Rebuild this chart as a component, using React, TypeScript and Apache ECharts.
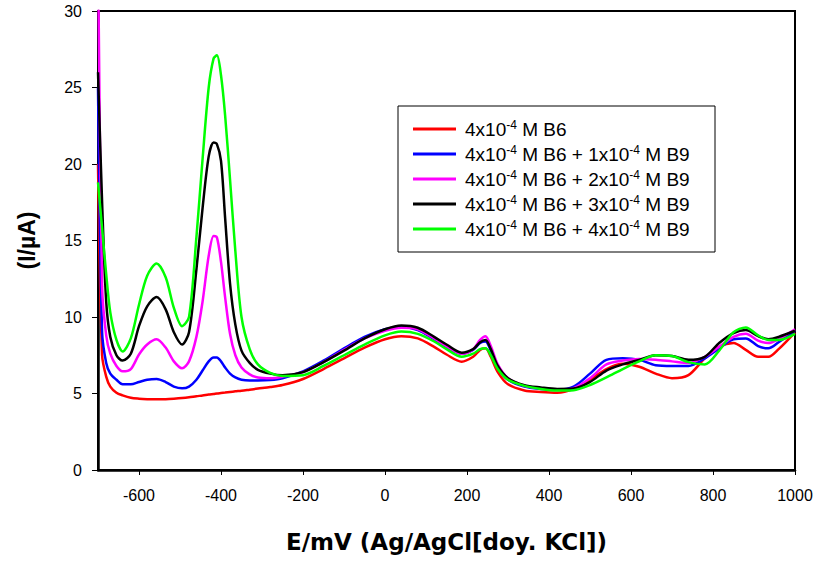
import React, { useEffect, useRef } from "react";
import * as echarts from "echarts";

const potential = [-700, -690, -680, -670, -655, -640, -620, -600, -580, -557, -535, -515, -495, -478, -460, -445, -430, -418, -410, -400, -390, -378, -365, -350, -330, -310, -280, -250, -200, -150, -100, -50, 0, 40, 80, 120, 150, 187, 215, 232, 245, 258, 275, 300, 340, 380, 420, 460, 500, 540, 580, 620, 660, 700, 740, 780, 815, 850, 880, 910, 935, 960, 1000];

const seriesNames = [
  "4x10-4 M B6",
  "4x10-4 M B6 + 1x10-4 M B9",
  "4x10-4 M B6 + 2x10-4 M B9",
  "4x10-4 M B6 + 3x10-4 M B9",
  "4x10-4 M B6 + 4x10-4 M B9",
];

const seriesColors = ["#ff0000", "#0000ff", "#ff00ff", "#000000", "#00ff00"];

const currentB6 = [20, 7.5, 6.1, 5.45, 5.05, 4.88, 4.72, 4.66, 4.63, 4.62, 4.63, 4.66, 4.7, 4.75, 4.82, 4.87, 4.93, 4.97, 5.0, 5.03, 5.06, 5.1, 5.14, 5.18, 5.25, 5.32, 5.42, 5.55, 5.95, 6.6, 7.3, 8.0, 8.55, 8.75, 8.6, 8.05, 7.55, 7.08, 7.4, 7.85, 7.95, 7.4, 6.4, 5.6, 5.2, 5.1, 5.05, 5.3, 5.9, 6.6, 6.95, 6.75, 6.3, 6.0, 6.2, 7.3, 8.05, 8.3, 7.85, 7.4, 7.4, 7.9, 9.0];

const currentB9_1 = [25, 9.0, 7.0, 6.3, 5.9, 5.6, 5.6, 5.75, 5.9, 5.95, 5.75, 5.45, 5.34, 5.45, 5.9, 6.5, 7.1, 7.35, 7.35, 7.1, 6.7, 6.3, 6.05, 5.9, 5.85, 5.85, 5.88, 6.0, 6.45, 7.15, 7.95, 8.7, 9.2, 9.35, 9.15, 8.55, 8.05, 7.6, 7.85, 8.3, 8.4, 7.8, 6.7, 5.9, 5.45, 5.3, 5.25, 5.45, 6.3, 7.2, 7.3, 7.2, 6.85, 6.8, 6.8, 7.3, 7.95, 8.55, 8.6, 8.1, 7.95, 8.35, 9.1];

const currentB9_2 = [34, 12.0, 8.8, 7.6, 6.8, 6.45, 6.6, 7.55, 8.2, 8.54, 8.0, 7.1, 6.65, 7.1, 8.7, 11.0, 14.0, 15.3, 15.2, 13.6, 11.3, 8.9, 7.5, 6.7, 6.25, 6.05, 6.0, 6.1, 6.4, 7.05, 7.85, 8.6, 9.1, 9.3, 9.2, 8.6, 8.1, 7.6, 7.9, 8.5, 8.75, 8.1, 6.9, 6.0, 5.5, 5.35, 5.25, 5.35, 6.0, 6.9, 7.15, 7.25, 7.2, 7.1, 7.0, 7.4, 8.05, 8.7, 8.9, 8.45, 8.3, 8.55, 9.2];

const currentB9_3 = [26, 17.5, 11.0, 8.7, 7.5, 7.15, 7.6, 9.4, 10.7, 11.3, 10.5, 9.0, 8.2, 9.0, 13.1, 17.1, 20.5, 21.4, 21.3, 20.2, 16.5, 12.2, 9.5, 7.8, 7.0, 6.55, 6.3, 6.2, 6.4, 7.05, 7.8, 8.6, 9.2, 9.45, 9.3, 8.7, 8.2, 7.67, 7.9, 8.35, 8.5, 7.9, 6.8, 6.0, 5.55, 5.4, 5.3, 5.32, 5.75, 6.5, 6.9, 7.2, 7.5, 7.45, 7.2, 7.4, 8.3, 8.95, 9.15, 8.75, 8.55, 8.7, 9.1];

const currentB9_4 = [18.8, 15.8, 12.8, 10.3, 8.5, 7.75, 8.6, 10.8, 12.7, 13.5, 12.6, 10.6, 9.4, 10.0, 15.2, 20.3, 25.0, 26.9, 27.1, 25.8, 23.2, 19.0, 14.3, 10.0, 7.9, 6.9, 6.35, 6.15, 6.2, 6.8, 7.5, 8.2, 8.8, 9.05, 8.9, 8.4, 7.9, 7.4, 7.6, 7.9, 7.95, 7.5, 6.6, 5.9, 5.5, 5.3, 5.2, 5.22, 5.55, 6.05, 6.6, 7.1, 7.5, 7.45, 7.05, 6.9, 7.8, 9.0, 9.32, 8.8, 8.5, 8.5, 8.9];

const xTickValues = [-600, -400, -200, 0, 200, 400, 600, 800, 1000];

export default function App() {
  const ref = useRef<HTMLDivElement>(null);
  useEffect(() => {
    if (!ref.current) return;
    const chart = echarts.init(ref.current, null, { renderer: "svg" });
    const allY = [currentB6, currentB9_1, currentB9_2, currentB9_3, currentB9_4];
    chart.setOption({
      animation: false,
      backgroundColor: "#ffffff",
      grid: {
        left: 98,
        top: 11,
        right: 24,
        bottom: 95,
        show: true,
        borderColor: "#000",
        borderWidth: 2,
      },
      graphic: [
        {
          type: "rect",
          z: 3,
          shape: { x: 398, y: 106, width: 317, height: 146 },
          style: { fill: "#ffffff", stroke: "#000000", lineWidth: 1 },
        },
      ],
      legend: {
        orient: "vertical",
        left: 398,
        top: 106,
        z: 5,
        padding: [13, 10, 14, 15],
        itemWidth: 43,
        itemHeight: 3,
        itemGap: 5,
        icon: "rect",
        data: seriesNames,
        formatter: (name: string) => name.replace(/10-4/g, "10{sup|-4}"),
        textStyle: {
          fontFamily: "Liberation Sans",
          fontSize: 19,
          color: "#000",
          lineHeight: 20,
          padding: [0, 0, 0, 4],
          rich: {
            sup: {
              fontFamily: "Liberation Sans",
              fontSize: 12,
              color: "#000",
              verticalAlign: "top",
              lineHeight: 12,
            },
          },
        },
      },
      xAxis: {
        type: "value",
        min: -700,
        max: 1000,
        name: "E/mV (Ag/AgCl[doy. KCl])",
        nameLocation: "middle",
        nameGap: 60,
        nameTextStyle: {
          fontFamily: "DejaVu Sans",
          fontWeight: "bold",
          fontSize: 23,
          color: "#000",
        },
        axisLine: { onZero: false, lineStyle: { color: "#000", width: 2.5 } },
        axisTick: {
          show: true,
          length: 5,
          customValues: xTickValues,
          lineStyle: { color: "#000", width: 1 },
        },
        axisLabel: {
          customValues: xTickValues,
          formatter: (v: number) => String(v),
          margin: 17,
          fontFamily: "Liberation Sans",
          fontSize: 16,
          color: "#000",
        },
        splitLine: { show: false },
      },
      yAxis: {
        type: "value",
        min: 0,
        max: 30,
        interval: 5,
        name: "(I/\u00b5A)",
        nameLocation: "middle",
        nameGap: 60,
        nameTextStyle: {
          fontFamily: "Liberation Sans",
          fontWeight: "bold",
          fontSize: 23,
          color: "#000",
        },
        axisLine: { onZero: false, lineStyle: { color: "#000", width: 2.5 } },
        axisTick: { show: true, length: 6, lineStyle: { color: "#000", width: 1 } },
        axisLabel: {
          margin: 16,
          fontFamily: "Liberation Sans",
          fontSize: 16,
          color: "#000",
        },
        splitLine: { show: false },
      },
      series: seriesNames.map((name, s) => ({
        name,
        type: "line",
        data: potential.map((x, i) => [x, allY[s][i]]),
        smooth: 0.3,
        symbol: "none",
        clip: true,
        lineStyle: { color: seriesColors[s], width: 2.5 },
        itemStyle: { color: seriesColors[s] },
      })),
    });
    return () => chart.dispose();
  }, []);
  return (
    <div
      ref={ref}
      style={{ position: "fixed", left: 0, top: 0, width: 819, height: 565, background: "#fff" }}
    />
  );
}
